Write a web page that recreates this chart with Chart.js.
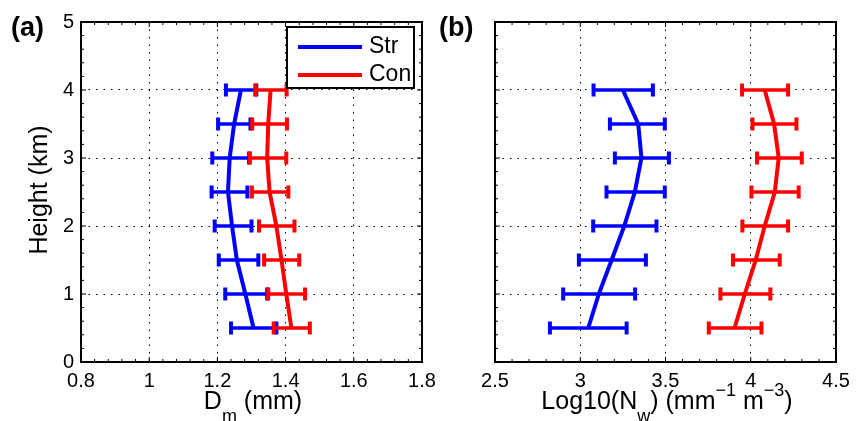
<!DOCTYPE html>
<html>
<head>
<meta charset="utf-8">
<script src="https://cdn.jsdelivr.net/npm/chart.js@4/dist/chart.umd.min.js"></script>
<style>
  body { margin: 0; background: #fff; }
  #wrap { position: relative; width: 857px; height: 421px; overflow: hidden; font-family: "Liberation Sans", Arial, sans-serif; color: #000; }
  canvas { position: absolute; left: 0; top: 0; }
  .lbl { position: absolute; white-space: nowrap; font-size: 25px; line-height: 1; }
  .panel { position: absolute; font-weight: bold; font-size: 27px; line-height: 1; }
  sub { font-size: 72%; vertical-align: -0.7em; line-height: 0; }
  sup { font-size: 72%; vertical-align: 0.75em; line-height: 0; }
  #legend { position: absolute; left: 286px; top: 26px; width: 129px; height: 63px; box-sizing: border-box; border: 2px solid #000; background: #fff; }
  #legend .row { position: absolute; left: 10px; font-size: 23px; line-height: 1; }
  #legend .sw { display: inline-block; width: 64px; height: 4px; vertical-align: middle; margin-right: 7px; }
</style>
</head>
<body>
<div id="wrap">
  <canvas id="chartA" width="857" height="421"></canvas>
  <canvas id="chartB" width="857" height="421"></canvas>
  <div class="panel" style="left:11px; top:14px;">(a)</div>
  <div class="panel" style="left:439px; top:14px;">(b)</div>
  <div class="lbl" style="left:38px; top:190px; transform: translate(-50%,-50%) rotate(-90deg);">Height (km)</div>
  <div class="lbl" style="left:253px; top:388px; transform: translateX(-50%);">D<sub>m</sub> (mm)</div>
  <div class="lbl" style="left:667px; top:388px; transform: translateX(-50%);">Log10(N<sub>w</sub>) (mm<sup>−1</sup> m<sup>−3</sup>)</div>
  <div id="legend">
    <div class="row" style="top:6px;"><span class="sw" style="background:#0000ff"></span>Str</div>
    <div class="row" style="top:34px;"><span class="sw" style="background:#ff0000"></span>Con</div>
  </div>
</div>
<script>
// heights of the profile levels (km)
const heights = [0.5, 1, 1.5, 2, 2.5, 3, 3.5, 4];

// panel (a): Dm (mm), mean and error bar ends
const strDm   = [1.306, 1.282, 1.257, 1.243, 1.231, 1.236, 1.249, 1.269];
const strDmLo = [1.240, 1.223, 1.204, 1.192, 1.183, 1.185, 1.202, 1.225];
const strDmHi = [1.373, 1.346, 1.320, 1.300, 1.288, 1.293, 1.297, 1.314];
const conDm   = [1.417, 1.402, 1.388, 1.373, 1.353, 1.346, 1.349, 1.356];
const conDmLo = [1.365, 1.349, 1.337, 1.322, 1.301, 1.295, 1.302, 1.311];
const conDmHi = [1.471, 1.457, 1.440, 1.426, 1.408, 1.402, 1.404, 1.403];

// panel (b): Log10(Nw), mean and error bar ends
const strNw   = [3.047, 3.109, 3.184, 3.258, 3.320, 3.359, 3.340, 3.250];
const strNwLo = [2.822, 2.900, 2.992, 3.076, 3.154, 3.203, 3.174, 3.078];
const strNwHi = [3.272, 3.322, 3.385, 3.447, 3.496, 3.520, 3.496, 3.426];
const conNw   = [3.905, 3.965, 4.029, 4.082, 4.141, 4.164, 4.137, 4.082];
const conNwLo = [3.754, 3.822, 3.896, 3.951, 4.004, 4.037, 4.010, 3.949];
const conNwHi = [4.063, 4.115, 4.170, 4.219, 4.281, 4.299, 4.268, 4.219];

// axis ticks
const dmTicks = [0.8, 1, 1.2, 1.4, 1.6, 1.8];
const nwTicks = [2.5, 3, 3.5, 4, 4.5];
const hTicks  = [0, 1, 2, 3, 4, 5];

const BLUE = '#0000ff';
const RED = '#ff0000';
const FONT = "'Liberation Sans', Arial, sans-serif";

function points(xs) {
    return xs.map((x, i) => ({ x: x, y: heights[i] }));
}

function series(label, xs, lo, hi, color, order) {
    return {
        label: label,
        data: points(xs),
        lo: lo,
        hi: hi,
        showLine: true,
        borderColor: color,
        backgroundColor: color,
        borderWidth: 4,
        pointRadius: 0,
        order: order
    };
}

// horizontal error bars with end caps
const errorBars = {
    id: 'errorBars',
    afterDatasetDraw(chart, args) {
        const ds = chart.data.datasets[args.index];
        const xs = chart.scales.x, ys = chart.scales.y;
        const ctx = chart.ctx;
        ctx.save();
        ctx.strokeStyle = ds.borderColor;
        ctx.lineCap = 'butt';
        heights.forEach((h, i) => {
            const y = ys.getPixelForValue(h);
            const x1 = xs.getPixelForValue(ds.lo[i]);
            const x2 = xs.getPixelForValue(ds.hi[i]);
            ctx.lineWidth = 3.5;
            ctx.beginPath();
            ctx.moveTo(x1, y); ctx.lineTo(x2, y);
            ctx.stroke();
            ctx.lineWidth = 4;
            ctx.beginPath();
            ctx.moveTo(x1, y - 6.5); ctx.lineTo(x1, y + 6.5);
            ctx.moveTo(x2, y - 6.5); ctx.lineTo(x2, y + 6.5);
            ctx.stroke();
        });
        ctx.restore();
    }
};

// matlab style box with inward major and minor ticks
const frame = {
    id: 'frame',
    afterDraw(chart) {
        const a = chart.chartArea, ctx = chart.ctx;
        const xs = chart.scales.x, ys = chart.scales.y;
        const xt = chart.options.scales.x.ticks.stepSize;
        ctx.save();
        ctx.strokeStyle = '#000';
        ctx.lineWidth = 1;
        ctx.beginPath();
        for (let k = 0, v = xs.min; v <= xs.max + 1e-9; k++, v = xs.min + k * xt / 5) {
            const p = xs.getPixelForValue(v);
            const len = k % 5 === 0 ? 5 : 3;
            ctx.moveTo(p, a.bottom); ctx.lineTo(p, a.bottom - len);
            ctx.moveTo(p, a.top); ctx.lineTo(p, a.top + len);
        }
        for (let k = 0, v = ys.min; v <= ys.max + 1e-9; k++, v = ys.min + k * 0.2) {
            const p = ys.getPixelForValue(v);
            const len = k % 5 === 0 ? 5 : 3;
            ctx.moveTo(a.left, p); ctx.lineTo(a.left + len, p);
            ctx.moveTo(a.right, p); ctx.lineTo(a.right - len, p);
        }
        ctx.stroke();
        ctx.lineWidth = 2;
        ctx.strokeRect(a.left, a.top, a.right - a.left, a.bottom - a.top);
        ctx.restore();
    }
};

function makeChart(id, datasets, xTicks, padLeft, showYLabels) {
    const step = xTicks[1] - xTicks[0];
    return new Chart(document.getElementById(id), {
        type: 'scatter',
        data: { datasets: datasets },
        options: {
            responsive: false,
            animation: false,
            layout: { padding: { left: padLeft, right: 857 - padLeft - 40 - 341, top: 22, bottom: 19 } },
            plugins: { legend: { display: false }, tooltip: { enabled: false } },
            scales: {
                x: {
                    type: 'linear',
                    min: xTicks[0],
                    max: xTicks[xTicks.length - 1],
                    afterBuildTicks: s => { s.ticks = xTicks.map(v => ({ value: v })); },
                    afterFit: s => { s.height = 40; },
                    ticks: {
                        stepSize: step,
                        color: '#000',
                        padding: 7,
                        maxRotation: 0,
                        font: { family: FONT, size: 20 },
                        callback: v => String(+v.toFixed(2))
                    },
                    grid: { color: '#000', lineWidth: 1, drawTicks: false },
                    border: { display: false, dash: [1.5, 6] }
                },
                y: {
                    type: 'linear',
                    min: 0,
                    max: 5,
                    afterBuildTicks: s => { s.ticks = hTicks.map(v => ({ value: v })); },
                    afterFit: s => { s.width = 40; },
                    ticks: {
                        display: showYLabels,
                        color: '#000',
                        padding: 7,
                        font: { family: FONT, size: 20 },
                        callback: v => String(v)
                    },
                    grid: { color: '#000', lineWidth: 1, drawTicks: false },
                    border: { display: false, dash: [1.5, 6] }
                }
            }
        },
        plugins: [errorBars, frame]
    });
}

makeChart('chartA', [
    series('Str', strDm, strDmLo, strDmHi, BLUE, 2),
    series('Con', conDm, conDmLo, conDmHi, RED, 1)
], dmTicks, 41, true);

makeChart('chartB', [
    series('Str', strNw, strNwLo, strNwHi, BLUE, 2),
    series('Con', conNw, conNwLo, conNwHi, RED, 1)
], nwTicks, 455, false);
</script>
</body>
</html>
